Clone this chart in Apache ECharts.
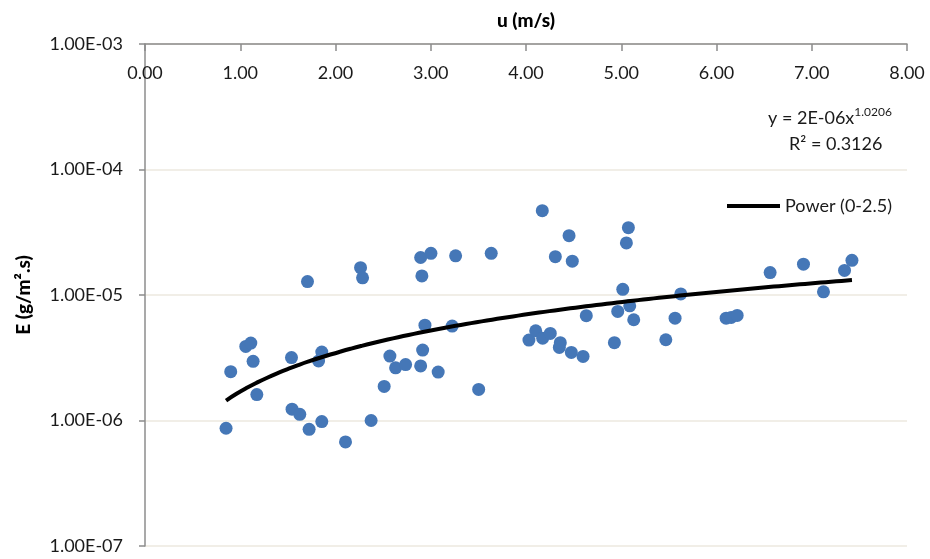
<!DOCTYPE html>
<html>
<head>
<meta charset="utf-8">
<script src="https://cdn.jsdelivr.net/npm/echarts@6/dist/echarts.min.js"></script>
<style>
    html, body { margin: 0; padding: 0; background: #fff; }
    #chart { width: 930px; height: 559px; }
</style>
</head>
<body>
<div id="chart"></div>
<script>
// wind speed u (m/s) and evaporation E (g/m2.s)
let uVals = [0.851, 0.900, 1.058, 1.111, 1.135, 1.174, 1.538, 1.544, 1.625, 1.706,
    1.723, 1.822, 1.856, 1.856, 2.105, 2.263, 2.284, 2.374, 2.511, 2.571,
    2.631, 2.736, 2.894, 2.894, 2.907, 2.915, 2.939, 3.002, 3.078, 3.225,
    3.261, 3.503, 3.635, 4.031, 4.102, 4.171, 4.175, 4.255, 4.308, 4.350,
    4.360, 4.452, 4.476, 4.486, 4.599, 4.633, 4.928, 4.963, 5.016, 5.054,
    5.075, 5.089, 5.131, 5.468, 5.565, 5.625, 6.101, 6.154, 6.217, 6.563,
    6.913, 7.123, 7.344, 7.422];
let eVals = [8.67e-7, 2.45e-6, 3.89e-6, 4.14e-6, 2.96e-6, 1.61e-6, 3.17e-6, 1.23e-6, 1.12e-6, 1.28e-5,
    8.5e-7, 2.98e-6, 3.51e-6, 9.8e-7, 6.75e-7, 1.65e-5, 1.37e-5, 1.0e-6, 1.87e-6, 3.26e-6,
    2.63e-6, 2.79e-6, 1.99e-5, 2.72e-6, 1.42e-5, 3.64e-6, 5.75e-6, 2.15e-5, 2.43e-6, 5.65e-6,
    2.05e-5, 1.77e-6, 2.15e-5, 4.37e-6, 5.19e-6, 4.70e-5, 4.53e-6, 4.94e-6, 2.02e-5, 3.82e-6,
    4.17e-6, 2.97e-5, 3.49e-6, 1.86e-5, 3.24e-6, 6.84e-6, 4.17e-6, 7.40e-6, 1.11e-5, 2.60e-5,
    3.44e-5, 8.20e-6, 6.35e-6, 4.40e-6, 6.54e-6, 1.02e-5, 6.54e-6, 6.62e-6, 6.87e-6, 1.51e-5,
    1.76e-5, 1.06e-5, 1.57e-5, 1.89e-5];

// power trendline y = a * x^b
let trendA = 1.70e-6;
let trendB = 1.0206;
let trendName = 'Power (0-2.5)';

let font = 'Lato';
let textColor = '#1a1a1a';

let points = uVals.map(function (u, i) { return [u, eVals[i]]; });

let uMin = Math.min.apply(null, uVals);
let uMax = Math.max.apply(null, uVals);
let trend = [];
for (let i = 0; i <= 60; i++) {
    let x = uMin + (uMax - uMin) * i / 60;
    trend.push([x, trendA * Math.pow(x, trendB)]);
}

function sciLabel(v) {
    let e = Math.round(Math.log10(v));
    let m = v / Math.pow(10, e);
    let s = e < 0 ? '-' : '+';
    let ae = Math.abs(e);
    return m.toFixed(2) + 'E' + s + (ae < 10 ? '0' + ae : ae);
}

let chart = echarts.init(document.getElementById('chart'));

chart.setOption({
    animation: false,
    backgroundColor: '#fff',
    title: [
        {
            text: '{a|y = 2E-06x}{s|1.0206}',
            left: 768, top: 106, padding: 0,
            textStyle: {
                fontWeight: 'normal',
                rich: {
                    a: { fontFamily: font, fontSize: 18, fontWeight: 'normal', color: textColor, lineHeight: 24 },
                    s: { fontFamily: font, fontSize: 12, fontWeight: 'normal', color: textColor, verticalAlign: 'top', lineHeight: 14 }
                }
            }
        },
        {
            text: 'R² = 0.3126',
            left: 789, top: 135, padding: 0,
            textStyle: { fontFamily: font, fontSize: 18, fontWeight: 'normal', color: textColor }
        }
    ],
    legend: {
        data: [{ name: trendName, icon: 'rect' }],
        left: 727, top: 197, padding: 0,
        itemWidth: 53, itemHeight: 4,
        textStyle: { fontFamily: font, fontSize: 18, color: textColor }
    },
    grid: { left: 145, right: 23, top: 44, bottom: 13 },
    xAxis: {
        type: 'value',
        position: 'top',
        min: 0, max: 8, interval: 1,
        name: 'u (m/s)',
        nameLocation: 'middle',
        nameGap: 14,
        nameTextStyle: { fontFamily: font, fontSize: 19, fontWeight: 900, color: '#000', verticalAlign: 'bottom' },
        axisLine: { show: true, onZero: false, lineStyle: { color: '#8c8c8c', width: 1.5 } },
        axisTick: { show: true, inside: true, length: 7, lineStyle: { color: '#8c8c8c', width: 1.5 } },
        axisLabel: {
            inside: true, margin: 20,
            fontFamily: font, fontSize: 18, color: textColor,
            formatter: function (v) { return v.toFixed(2); }
        },
        splitLine: { show: false }
    },
    yAxis: {
        type: 'log',
        logBase: 10,
        min: 1e-7, max: 1e-3,
        name: 'E (g/m².s)',
        nameLocation: 'middle',
        nameGap: 112,
        nameRotate: 90,
        nameTextStyle: { fontFamily: font, fontSize: 19, fontWeight: 900, color: '#000' },
        axisLine: { show: true, lineStyle: { color: '#8c8c8c', width: 1.5 } },
        axisTick: { show: true, length: 6, lineStyle: { color: '#8c8c8c', width: 1.5 } },
        axisLabel: {
            margin: 22,
            fontFamily: font, fontSize: 18, color: textColor,
            formatter: sciLabel
        },
        splitLine: { show: true, lineStyle: { color: '#ECE9DF', width: 1.5 } },
        minorTick: { show: false }
    },
    series: [
        {
            name: 'E',
            type: 'scatter',
            data: points,
            symbol: 'circle',
            symbolSize: 13,
            itemStyle: { color: '#4577B7', opacity: 1 },
            z: 3
        },
        {
            name: trendName,
            type: 'line',
            data: trend,
            symbol: 'none',
            smooth: true,
            lineStyle: { color: '#000', width: 4 },
            itemStyle: { color: '#000' },
            z: 4
        }
    ]
});
</script>
</body>
</html>
